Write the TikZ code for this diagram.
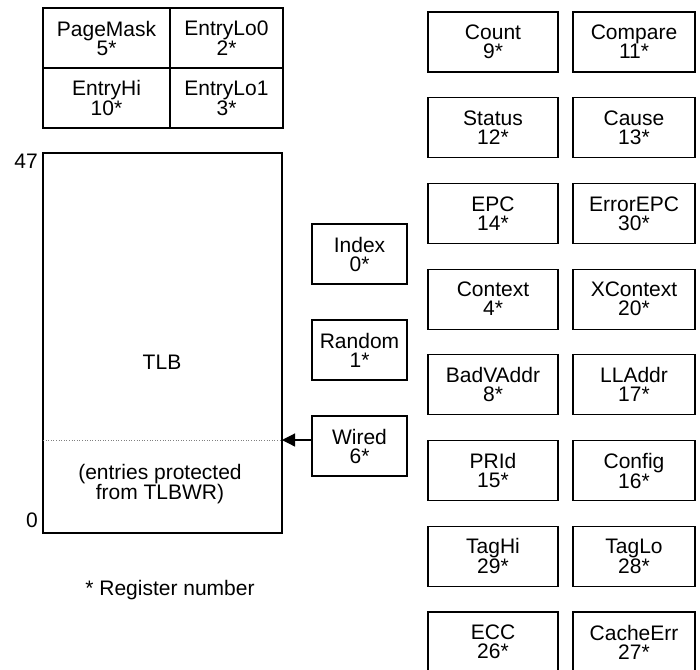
\documentclass[tikz,border=0pt]{standalone}
\usepackage{fontspec}
\setmainfont{Liberation Sans}
\usetikzlibrary{arrows.meta,positioning}

\begin{document}
\begin{tikzpicture}[
  x=1pt, y=-1pt,
  font=\fontsize{21}{19}\selectfont,
  node distance=85.7pt, on grid,
  reg/.style={draw, line width=1.2pt, align=center, inner sep=0pt,
    outer sep=0pt, minimum height=60pt},
  regL/.style={reg, minimum width=130pt},
  regR/.style={reg, minimum width=122pt},
  regM/.style={reg, minimum width=95pt},
  cellL/.style={reg, minimum width=127pt},
  cellR/.style={reg, minimum width=113pt},
  ar/.style={-{Triangle[length=13pt,width=13pt]}, line width=1.2pt},
  lbl/.style={inner sep=1pt, align=center},
]
\useasboundingbox (0,0) rectangle (700,669);

% ---------------- TLB entry registers ----------------
\node[cellL] (pagemask) at (106.5,38) {PageMask\\5*};
\node[cellR] (entrylo0) at (226.5,38) {EntryLo0\\2*};
\node[cellL] (entryhi)  at (106.5,98) {EntryHi\\10*};
\node[cellR] (entrylo1) at (226.5,98) {EntryLo1\\3*};

% ---------------- TLB ----------------
\node[reg, minimum width=239pt, minimum height=380pt] (tlb) at (162.5,343) {};
\node[lbl] (tlbname) at (162,362) {TLB};
\node[lbl, anchor=north east] (top) at ([xshift=-4pt]tlb.north west) {47};
\node[lbl, anchor=south east] (bot) at ([xshift=-4pt,yshift=4pt]tlb.south west) {0};

\path (tlb.north west) ++(0,287) coordinate (splitW);
\path (tlb.north east) ++(0,287) coordinate (splitE);
\draw[gray, dotted, line width=0.6pt] (splitW) -- (splitE);
\node[lbl] (wired-note) at (160,484) {(entries protected\\from TLBWR)};

\node[lbl] (legend) at (170,590) {* Register number};

% ---------------- index / random / wired ----------------
\node[regM] (index) at (359.5,254) {Index\\0*};
\node[regM, below=96pt of index] (random) {Random\\1*};
\node[regM, below=96pt of random] (wired) {Wired\\6*};

\draw[ar] (wired.west |- splitE) -- (splitE);

% ---------------- other CP0 registers ----------------
\node[regL] (count) at (493,42) {Count\\9*};
\node[regL, below=of count] (status) {Status\\12*};
\node[regL, below=of status] (epc) {EPC\\14*};
\node[regL, below=of epc] (context) {Context\\4*};
\node[regL, below=of context] (badvaddr) {BadVAddr\\8*};
\node[regL, below=of badvaddr] (prid) {PRId\\15*};
\node[regL, below=of prid] (taghi) {TagHi\\29*};
\node[regL, below=of taghi] (ecc) {ECC\\26*};

\node[regR] (compare) at (634,42) {Compare\\11*};
\node[regR, below=of compare] (cause) {Cause\\13*};
\node[regR, below=of cause] (errorepc) {ErrorEPC\\30*};
\node[regR, below=of errorepc] (xcontext) {XContext\\20*};
\node[regR, below=of xcontext] (lladdr) {LLAddr\\17*};
\node[regR, below=of lladdr] (config) {Config\\16*};
\node[regR, below=of config] (taglo) {TagLo\\28*};
\node[regR, below=of taglo] (cacheerr) {CacheErr\\27*};

\end{tikzpicture}
\end{document}
